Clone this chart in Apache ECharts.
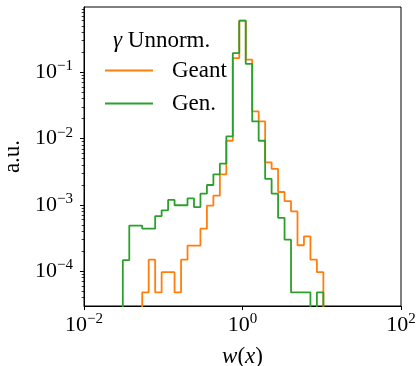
<!DOCTYPE html>
<html>
<head>
<meta charset="utf-8">
<script src="https://cdn.jsdelivr.net/npm/echarts@6/dist/echarts.min.js"></script>
<style>
  html, body { margin: 0; padding: 0; background: #fff; }
  #chart { width: 419px; height: 366px; }
</style>
</head>
<body>
<div id="chart"></div>
<script>
// Logarithmic bin edges of w(x) covering the filled bins (32 edges -> 31 bins)
const binEdges = [
  0.030888, 0.037276, 0.044982, 0.054287, 0.065515, 0.079060, 0.095410, 0.11514,
  0.13895, 0.16768, 0.20236, 0.24421, 0.29471, 0.35565, 0.42917, 0.51795,
  0.62505, 0.75431, 0.91030, 1.09854, 1.32572, 1.59987, 1.93069, 2.33008,
  2.81176, 3.39312, 4.09481, 4.94171, 5.96357, 7.19686, 8.68511, 10.4811
];

// Per-bin histogram heights (a.u.); 0 means an empty bin
const geantHist = [
  0, 0, 0, 4.8e-5, 1.5e-4, 4.8e-5, 9.7e-5, 9.7e-5,
  4.8e-5, 1.5e-4, 2.44e-4, 2.44e-4, 4.4e-4, 9.8e-4, 1.38e-3, 2.9e-3,
  9.3e-3, 0.164, 0.60, 0.155, 2.58e-2, 1.82e-2, 4.4e-3, 3.49e-3,
  1.57e-3, 1.14e-3, 8.0e-4, 2.47e-4, 3.37e-4, 1.5e-4, 9.7e-5
];
const genHist = [
  1.47e-4, 4.9e-4, 4.9e-4, 4.4e-4, 4.4e-4, 6.8e-4, 8.3e-4, 1.19e-3,
  9.9e-4, 9.9e-4, 1.26e-3, 9.3e-4, 1.48e-3, 2.0e-3, 2.9e-3, 4.2e-3,
  1.08e-2, 0.195, 0.60, 0.134, 1.82e-2, 9.3e-3, 2.47e-3, 1.48e-3,
  6.4e-4, 3.0e-4, 4.8e-5, 4.8e-5, 4.8e-5, 0, 4.8e-5
];

const seriesNames = ['Geant', 'Gen.'];
const seriesColors = ['#ff7f0e', '#2ca02c'];

const xTickValues = [0.01, 1, 100];
const yTickValues = [1e-4, 1e-3, 1e-2, 1e-1];
const yMinorTickValues = [
  4e-5, 5e-5, 6e-5, 7e-5, 8e-5, 9e-5,
  2e-4, 3e-4, 4e-4, 5e-4, 6e-4, 7e-4, 8e-4, 9e-4,
  2e-3, 3e-3, 4e-3, 5e-3, 6e-3, 7e-3, 8e-3, 9e-3,
  2e-2, 3e-2, 4e-2, 5e-2, 6e-2, 7e-2, 8e-2, 9e-2,
  2e-1, 3e-1, 4e-1, 5e-1, 6e-1, 7e-1, 8e-1, 9e-1
];

const X_MIN = 0.01, X_MAX = 100;
const Y_MIN = 3.0e-5, Y_MAX = 0.965;
// empty bins fall below the visible range and get clipped, as on a log scale
const EMPTY_LEVEL = 1e-7;

const FONT = 'Liberation Serif';

// Outline of a step histogram: rise at the first edge, one step per bin, drop at the last edge
function stepOutline(hist) {
  const level = v => (v > 0 ? v : EMPTY_LEVEL);
  const pts = [[binEdges[0], EMPTY_LEVEL]];
  hist.forEach((v, i) => pts.push([binEdges[i], level(v)]));
  const n = hist.length;
  pts.push([binEdges[n], level(hist[n - 1])]);
  pts.push([binEdges[n], EMPTY_LEVEL]);
  return pts;
}

function powerLabel(v) {
  const e = Math.round(Math.log10(v));
  return '{b|10}{s|' + (e < 0 ? '\u2212' : '') + Math.abs(e) + '}';
}

const powerRich = {
  b: { fontFamily: FONT, fontSize: 22, lineHeight: 22, color: '#000' },
  s: { fontFamily: FONT, fontSize: 15, lineHeight: 15, color: '#000', padding: [0, 0, 12, 0] }
};

const chart = echarts.init(document.getElementById('chart'), null, { renderer: 'canvas' });

chart.setOption({
  animation: false,
  backgroundColor: '#fff',
  grid: {
    left: 84, right: 18, top: 7, bottom: 60,
    outerBoundsMode: 'none', containLabel: false,
    show: true, borderColor: '#000', borderWidth: 1, backgroundColor: 'transparent'
  },
  title: {
    text: '{g|\u03b3} Unnorm.',
    left: 113, top: 29, padding: 0,
    textStyle: {
      fontFamily: FONT, fontSize: 23, fontWeight: 'normal', color: '#000',
      rich: { g: { fontFamily: FONT, fontSize: 23, fontStyle: 'italic', color: '#000' } }
    }
  },
  legend: {
    data: seriesNames,
    orient: 'vertical',
    left: 105, top: 59, padding: 0,
    icon: 'rect', itemWidth: 48, itemHeight: 2, itemGap: 10,
    selectedMode: false,
    textStyle: { fontFamily: FONT, fontSize: 23, lineHeight: 22, color: '#000', padding: [0, 0, 0, 14] }
  },
  xAxis: {
    type: 'log', logBase: 10, min: X_MIN, max: X_MAX,
    name: '{i|w}({i|x})', nameLocation: 'middle', nameGap: 39,
    nameTextStyle: {
      fontFamily: FONT, fontSize: 23, color: '#000',
      rich: { i: { fontFamily: FONT, fontSize: 23, fontStyle: 'italic', color: '#000' } }
    },
    axisLine: { show: true, lineStyle: { color: '#000', width: 1 } },
    axisTick: { show: true, inside: false, length: 4, customValues: xTickValues, lineStyle: { color: '#000', width: 1 } },
    axisLabel: { show: true, margin: 8, customValues: xTickValues, formatter: powerLabel, rich: powerRich },
    splitLine: { show: false },
    minorTick: { show: false }
  },
  yAxis: [
    {
      type: 'log', logBase: 10, min: Y_MIN, max: Y_MAX, position: 'left',
      name: 'a.u.', nameLocation: 'middle', nameGap: 60, nameRotate: 90,
      nameTextStyle: { fontFamily: FONT, fontSize: 23, lineHeight: 23, color: '#000' },
      axisLine: { show: true, lineStyle: { color: '#000', width: 1 } },
      axisTick: { show: true, inside: false, length: 4, customValues: yTickValues, lineStyle: { color: '#000', width: 1 } },
      axisLabel: { show: true, margin: 11, customValues: yTickValues, formatter: powerLabel, rich: powerRich },
      splitLine: { show: false }
    },
    {
      // minor ticks at 2..9 x 10^k
      type: 'log', logBase: 10, min: Y_MIN, max: Y_MAX, position: 'left',
      axisLine: { show: false },
      axisTick: { show: true, inside: false, length: 2.3, customValues: yMinorTickValues, lineStyle: { color: '#000', width: 0.8 } },
      axisLabel: { show: false },
      splitLine: { show: false }
    }
  ],
  series: [
    {
      name: seriesNames[0], type: 'line', step: 'end', symbol: 'none',
      yAxisIndex: 0, clip: true, color: seriesColors[0],
      lineStyle: { color: seriesColors[0], width: 1.8 },
      data: stepOutline(geantHist)
    },
    {
      name: seriesNames[1], type: 'line', step: 'end', symbol: 'none',
      yAxisIndex: 0, clip: true, color: seriesColors[1],
      lineStyle: { color: seriesColors[1], width: 1.8 },
      data: stepOutline(genHist)
    }
  ]
});
</script>
</body>
</html>
